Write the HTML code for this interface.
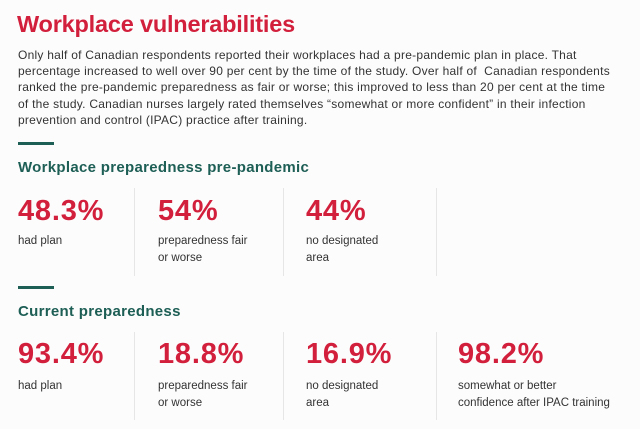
<!DOCTYPE html>
<html><head><meta charset="utf-8"><style>
body{margin:0;width:640px;height:429px;background:#fcfcfc;font-family:"Liberation Sans",sans-serif;position:relative;overflow:hidden}
h1{position:absolute;left:17px;top:11px;margin:0;font-size:23.5px;font-weight:bold;color:#d21f3c;letter-spacing:-0.2px}
.p{position:absolute;left:18px;top:47px;font-size:12px;letter-spacing:0.25px;line-height:16.2px;color:#333;width:630px;white-space:nowrap}
.bar{position:absolute;left:18px;width:36px;height:3px;background:#1d5e55}
.h{position:absolute;left:18px;font-size:15px;font-weight:bold;color:#1d5e55;letter-spacing:0.3px}
.n{position:absolute;font-size:29px;font-weight:bold;color:#d21f3c;letter-spacing:0.8px}
.l{position:absolute;font-size:11.5px;line-height:17px;color:#333;white-space:nowrap}
.s{position:absolute;width:1px;background:#e6e6e6}
</style></head><body>
<h1>Workplace vulnerabilities</h1>
<div class="p">Only half of Canadian respondents reported their workplaces had a pre-pandemic plan in place. That<br>percentage increased to well over 90 per cent by the time of the study. Over half of &nbsp;Canadian respondents<br>ranked the pre-pandemic preparedness as fair or worse; this improved to less than 20 per cent at the time<br>of the study. Canadian nurses largely rated themselves “somewhat or more confident” in their infection<br>prevention and control (IPAC) practice after training.</div>
<div class="bar" style="top:142px"></div>
<div class="h" style="top:159px">Workplace preparedness pre-pandemic</div>
<div class="s" style="left:134px;top:188px;height:88px"></div>
<div class="s" style="left:283px;top:188px;height:88px"></div>
<div class="s" style="left:436px;top:188px;height:88px"></div>
<div class="n" style="left:18px;top:195px">48.3%</div>
<div class="l" style="left:18px;top:233px">had plan</div>
<div class="n" style="left:158px;top:195px">54%</div>
<div class="l" style="left:158px;top:233px">preparedness fair<br>or worse</div>
<div class="n" style="left:306px;top:195px">44%</div>
<div class="l" style="left:306px;top:233px">no designated<br>area</div>
<div class="bar" style="top:286px"></div>
<div class="h" style="top:303px">Current preparedness</div>
<div class="s" style="left:134px;top:332px;height:88px"></div>
<div class="s" style="left:283px;top:332px;height:88px"></div>
<div class="s" style="left:436px;top:332px;height:88px"></div>
<div class="n" style="left:18px;top:338px">93.4%</div>
<div class="l" style="left:18px;top:378px">had plan</div>
<div class="n" style="left:158px;top:338px">18.8%</div>
<div class="l" style="left:158px;top:378px">preparedness fair<br>or worse</div>
<div class="n" style="left:306px;top:338px">16.9%</div>
<div class="l" style="left:306px;top:378px">no designated<br>area</div>
<div class="n" style="left:458px;top:338px">98.2%</div>
<div class="l" style="left:458px;top:378px">somewhat or better<br>confidence after IPAC training</div>
</body></html>
